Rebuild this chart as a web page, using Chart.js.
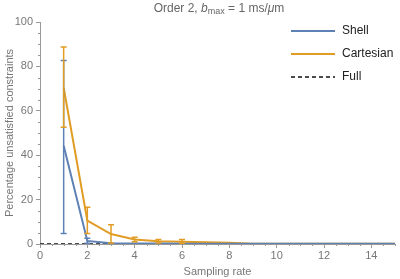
<!DOCTYPE html>
<html>
<head>
<meta charset="utf-8">
<script src="https://cdn.jsdelivr.net/npm/chart.js@4"></script>
<style>
  html, body { margin: 0; padding: 0; background: #fff; }
  #wrap { position: relative; width: 400px; height: 279px; }
  #title {
    position: absolute; left: 0; width: 438px; top: 1px; text-align: center;
    font: 12px "Liberation Sans", Arial, sans-serif; color: #666;
  }
  #title sub { font-size: 9px; vertical-align: -2px; }
</style>
</head>
<body>
<div id="wrap">
  <canvas id="chart" width="400" height="279"></canvas>
  <div id="title">Order 2, <i>b</i><sub>max</sub> = 1 ms/<i>μ</i>m</div>
</div>
<script>
// sampling rates
const rates = [1, 2, 3, 4, 5, 6, 7, 8, 9, 10, 11, 12, 13, 14, 15];

// Shell: mean and error bar range
const shellMean = [44.3, 1.4, 0.3, 0.2, 0.2, 0.1, 0.1, 0.1, 0.1, 0.1, 0.1, 0.1, 0.1, 0.1, 0.1];
const shellLow  = [4.7, 0.3, 0.1, 0.1, 0.1, 0.0, 0.0, 0.0, 0.0, 0.0, 0.0, 0.0, 0.0, 0.0, 0.0];
const shellHigh = [82.7, 2.6, 0.6, 0.4, 0.4, 0.3, 0.3, 0.3, 0.3, 0.3, 0.3, 0.3, 0.3, 0.3, 0.3];

// Cartesian: mean and error bar range
const cartMean = [70.4, 10.5, 4.5, 2.0, 1.2, 1.0, 0.8, 0.6, 0.1, 0.1, 0.1, 0.1, 0.1, 0.1, 0.1];
const cartLow  = [52.6, 4.7, 0.5, 1.0, 0.5, 0.3, 0.4, 0.3, 0.0, 0.0, 0.0, 0.0, 0.0, 0.0, 0.0];
const cartHigh = [88.7, 16.5, 8.7, 3.0, 2.0, 2.0, 1.2, 1.0, 0.2, 0.2, 0.2, 0.2, 0.2, 0.2, 0.2];

// Full reference line
const fullX = [0, 15];
const fullY = [0, 0];

const xMajor = [0, 2, 4, 6, 8, 10, 12, 14];
const yMajor = [0, 20, 40, 60, 80, 100];

const blue = '#5e81b5';
const orange = '#e19c24';
const grey = '#999';
const font = '"Liberation Sans", Arial, sans-serif';

// error bars with caps, drawn through the scales
const errorBars = {
  id: 'errorBars',
  afterDatasetsDraw(chart) {
    const ctx = chart.ctx;
    const xs = chart.scales.x, ys = chart.scales.y;
    const sets = [[shellLow, shellHigh, blue], [cartLow, cartHigh, orange]];
    ctx.save();
    sets.forEach(([lo, hi, col]) => {
      ctx.strokeStyle = col;
      ctx.lineWidth = 1.5;
      rates.forEach((r, i) => {
        const px = xs.getPixelForValue(r);
        const p1 = ys.getPixelForValue(lo[i]);
        const p2 = ys.getPixelForValue(hi[i]);
        if (Math.abs(p1 - p2) < 2) return;
        ctx.beginPath();
        ctx.moveTo(px, p1); ctx.lineTo(px, p2);
        ctx.moveTo(px - 3, p1); ctx.lineTo(px + 3, p1);
        ctx.moveTo(px - 3, p2); ctx.lineTo(px + 3, p2);
        ctx.stroke();
      });
    });
    ctx.restore();
  }
};

// minor ticks and legend
const extras = {
  id: 'extras',
  afterDraw(chart) {
    const ctx = chart.ctx;
    const xs = chart.scales.x, ys = chart.scales.y;
    const a = chart.chartArea;
    ctx.save();
    ctx.strokeStyle = grey;
    ctx.lineWidth = 1;
    ctx.beginPath();
    for (let v = 0; v <= 15; v += 0.5) {
      if (v % 2 === 0) continue;
      const px = Math.round(xs.getPixelForValue(v)) + 0.5;
      ctx.moveTo(px, a.bottom); ctx.lineTo(px, a.bottom + 2);
    }
    for (let v = 0; v <= 100; v += 5) {
      if (v % 20 === 0) continue;
      const py = Math.round(ys.getPixelForValue(v)) + 0.5;
      ctx.moveTo(a.left, py); ctx.lineTo(a.left - 2, py);
    }
    ctx.stroke();

    // legend
    ctx.font = '12px ' + font;
    ctx.fillStyle = '#222';
    ctx.textBaseline = 'middle';
    chart.data.datasets.forEach((ds, i) => {
      const y = 31 + i * 23;
      ctx.strokeStyle = ds.borderColor;
      ctx.lineWidth = ds.label === 'Full' ? 1.5 : 2;
      ctx.setLineDash(ds.borderDash || []);
      ctx.beginPath();
      ctx.moveTo(291, y); ctx.lineTo(335, y);
      ctx.stroke();
      ctx.setLineDash([]);
      ctx.fillText(ds.label, 342, y);
    });
    ctx.restore();
  }
};

new Chart(document.getElementById('chart'), {
  type: 'line',
  data: {
    datasets: [
      {
        label: 'Shell',
        data: rates.map((r, i) => ({ x: r, y: shellMean[i] })),
        borderColor: blue, borderWidth: 2, pointRadius: 0, tension: 0
      },
      {
        label: 'Cartesian',
        data: rates.map((r, i) => ({ x: r, y: cartMean[i] })),
        borderColor: orange, borderWidth: 2, pointRadius: 0, tension: 0
      },
      {
        label: 'Full',
        data: fullX.map((x, i) => ({ x: x, y: fullY[i] })),
        borderColor: '#111', borderWidth: 1.5, borderDash: [4, 3], pointRadius: 0
      }
    ]
  },
  options: {
    responsive: false,
    animation: false,
    layout: { padding: { top: 22, right: 5, left: 3, bottom: 0 } },
    plugins: { legend: { display: false }, tooltip: { enabled: false }, title: { display: false } },
    scales: {
      x: {
        type: 'linear', min: 0, max: 15,
        afterFit: (s) => { s.height = 35; },
        afterBuildTicks: (s) => { s.ticks = xMajor.map(v => ({ value: v })); },
        border: { color: grey, width: 1 },
        grid: { drawOnChartArea: false, color: grey, tickLength: 4 },
        ticks: { color: '#777', font: { family: font, size: 11 }, padding: 1, maxRotation: 0 },
        title: { display: true, text: 'Sampling rate', color: '#777', font: { family: font, size: 11 }, padding: { top: 5, bottom: 0 } }
      },
      y: {
        type: 'linear', min: 0, max: 100,
        afterFit: (s) => { s.width = 37; },
        afterBuildTicks: (s) => { s.ticks = yMajor.map(v => ({ value: v })); },
        border: { color: grey, width: 1 },
        grid: { drawOnChartArea: false, color: grey, tickLength: 4 },
        ticks: { color: '#777', font: { family: font, size: 11 }, padding: 3 },
        title: { display: true, text: 'Percentage unsatisfied constraints', color: '#777', font: { family: font, size: 11 }, padding: 0 }
      }
    }
  },
  plugins: [errorBars, extras]
});
</script>
</body>
</html>
